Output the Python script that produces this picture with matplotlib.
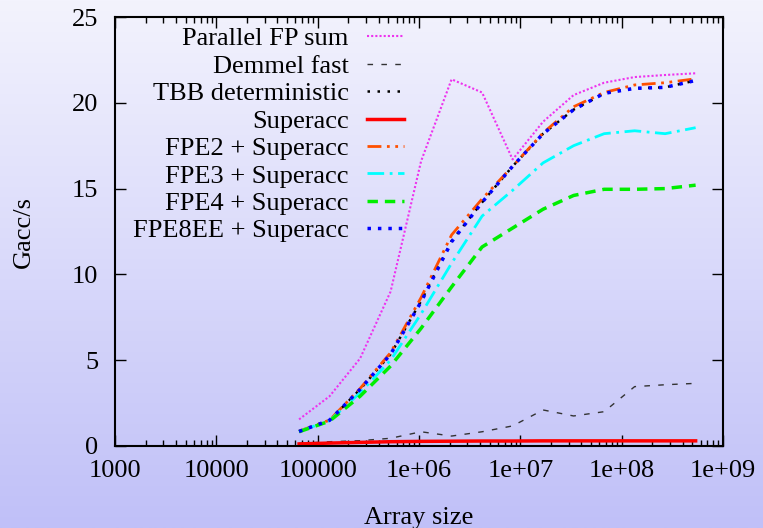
import numpy as np
import matplotlib
matplotlib.use("Agg")
import matplotlib.pyplot as plt
from matplotlib.ticker import FixedLocator, FixedFormatter, NullFormatter

# ---------------- data ----------------
array_size = [2**k for k in range(16, 30)]

parallel_fp_sum = [1.55, 2.9, 5.1, 9.0, 16.6, 21.37, 20.6, 16.7, 18.9, 20.45, 21.17, 21.5, 21.62, 21.72]
demmel_fast     = [0.15, 0.25, 0.31, 0.45, 0.83, 0.58, 0.83, 1.17, 2.1, 1.75, 2.0, 3.46, 3.57, 3.65]
tbb_determ      = [0.85, 1.5, 3.3, 5.35, 8.45, 11.95, 14.2, 16.3, 18.2, 19.6, 20.55, 20.85, 20.9, 21.3]
superacc        = [0.12, 0.17, 0.21, 0.25, 0.27, 0.28, 0.29, 0.29, 0.30, 0.30, 0.30, 0.30, 0.30, 0.30]
fpe2_superacc   = [0.87, 1.51, 3.35, 5.44, 8.65, 12.3, 14.4, 16.3, 18.25, 19.77, 20.6, 21.04, 21.17, 21.4]
fpe3_superacc   = [0.85, 1.48, 3.1, 5.0, 7.7, 10.65, 13.4, 14.9, 16.5, 17.5, 18.2, 18.37, 18.2, 18.55]
fpe4_superacc   = [0.83, 1.45, 2.9, 4.66, 6.86, 9.27, 11.6, 12.7, 13.8, 14.6, 14.96, 14.96, 15.0, 15.2]
fpe8ee_superacc = [0.85, 1.5, 3.3, 5.35, 8.4, 11.9, 14.2, 16.3, 18.2, 19.6, 20.55, 20.84, 20.9, 21.3]

labels = ["Parallel FP sum", "Demmel fast", "TBB deterministic", "Superacc",
          "FPE2 + Superacc", "FPE3 + Superacc", "FPE4 + Superacc", "FPE8EE + Superacc"]

x_ticks = [1e3, 1e4, 1e5, 1e6, 1e7, 1e8, 1e9]
x_tick_labels = ["1000", "10000", "100000", "1e+06", "1e+07", "1e+08", "1e+09"]
y_ticks = [0, 5, 10, 15, 20, 25]

# ---------------- figure ----------------
plt.rcParams['font.family'] = ['Liberation Serif', 'DejaVu Serif']
W, H = 763, 528
fig = plt.figure(figsize=(W / 100, H / 100), dpi=100)

# gradient background
bg = fig.add_axes([0, 0, 1, 1], zorder=-10)
top = np.array([243, 243, 253]) / 255.0
bot = np.array([192, 192, 248]) / 255.0
t = np.linspace(0, 1, 256)[:, None]
grad = (top[None, :] * (1 - t) + bot[None, :] * t)[:, None, :]
bg.imshow(grad, aspect='auto', extent=[0, 1, 0, 1], origin='upper')
bg.set_axis_off()

ax = fig.add_axes([115 / W, (H - 446) / H, (723 - 115) / W, (446 - 17) / H])
ax.set_facecolor('none')

series = [parallel_fp_sum, demmel_fast, tbb_determ, superacc,
          fpe2_superacc, fpe3_superacc, fpe4_superacc, fpe8ee_superacc]
styles = [
    dict(color='#ee33ee', lw=1.5, dashes=(1, 1)),
    dict(color='#333333', lw=1.0, dashes=(4, 6)),
    dict(color='#000000', lw=1.8, dashes=(1, 3)),
    dict(color='#ff0000', lw=2.5, ls='-'),
    dict(color='#ff5000', lw=2.0, dashes=(5, 2, 1, 2, 1, 2)),
    dict(color='#00ffff', lw=2.0, dashes=(6, 2, 1, 2)),
    dict(color='#00ee00', lw=2.5, dashes=(3, 2)),
    dict(color='#0000ff', lw=2.5, dashes=(1, 2)),
]
for ys, lab, st in zip(series, labels, styles):
    ax.plot(array_size, ys, label=lab, **st)

ax.set_xscale('log')
ax.set_xlim(1e3, 1e9)
ax.set_ylim(0, 25)
ax.xaxis.set_major_locator(FixedLocator(x_ticks))
ax.xaxis.set_major_formatter(FixedFormatter(x_tick_labels))
ax.xaxis.set_minor_formatter(NullFormatter())
ax.set_yticks(y_ticks)

fs = 19
ax.tick_params(axis='both', which='major', direction='in', length=8, width=1,
               top=True, right=True, labelsize=fs, colors='black')
ax.tick_params(axis='x', which='minor', direction='in', length=4, width=1,
               top=True, bottom=True)
ax.tick_params(axis='x', pad=10)
ax.tick_params(axis='y', pad=12)
for s in ax.spines.values():
    s.set_linewidth(1.5)

ax.set_xlabel("Array size", fontsize=fs, labelpad=18)
ax.set_ylabel("Gacc/s", fontsize=fs, labelpad=27)

leg = ax.legend(loc='upper right', bbox_to_anchor=(404 / W, 1 - 27 / H),
                bbox_transform=fig.transFigure, frameon=False, markerfirst=False,
                fontsize=fs, handlelength=1.4, handletextpad=0.7,
                labelspacing=0.15, borderpad=0, borderaxespad=0)

fig.savefig("out.png", dpi=100)
